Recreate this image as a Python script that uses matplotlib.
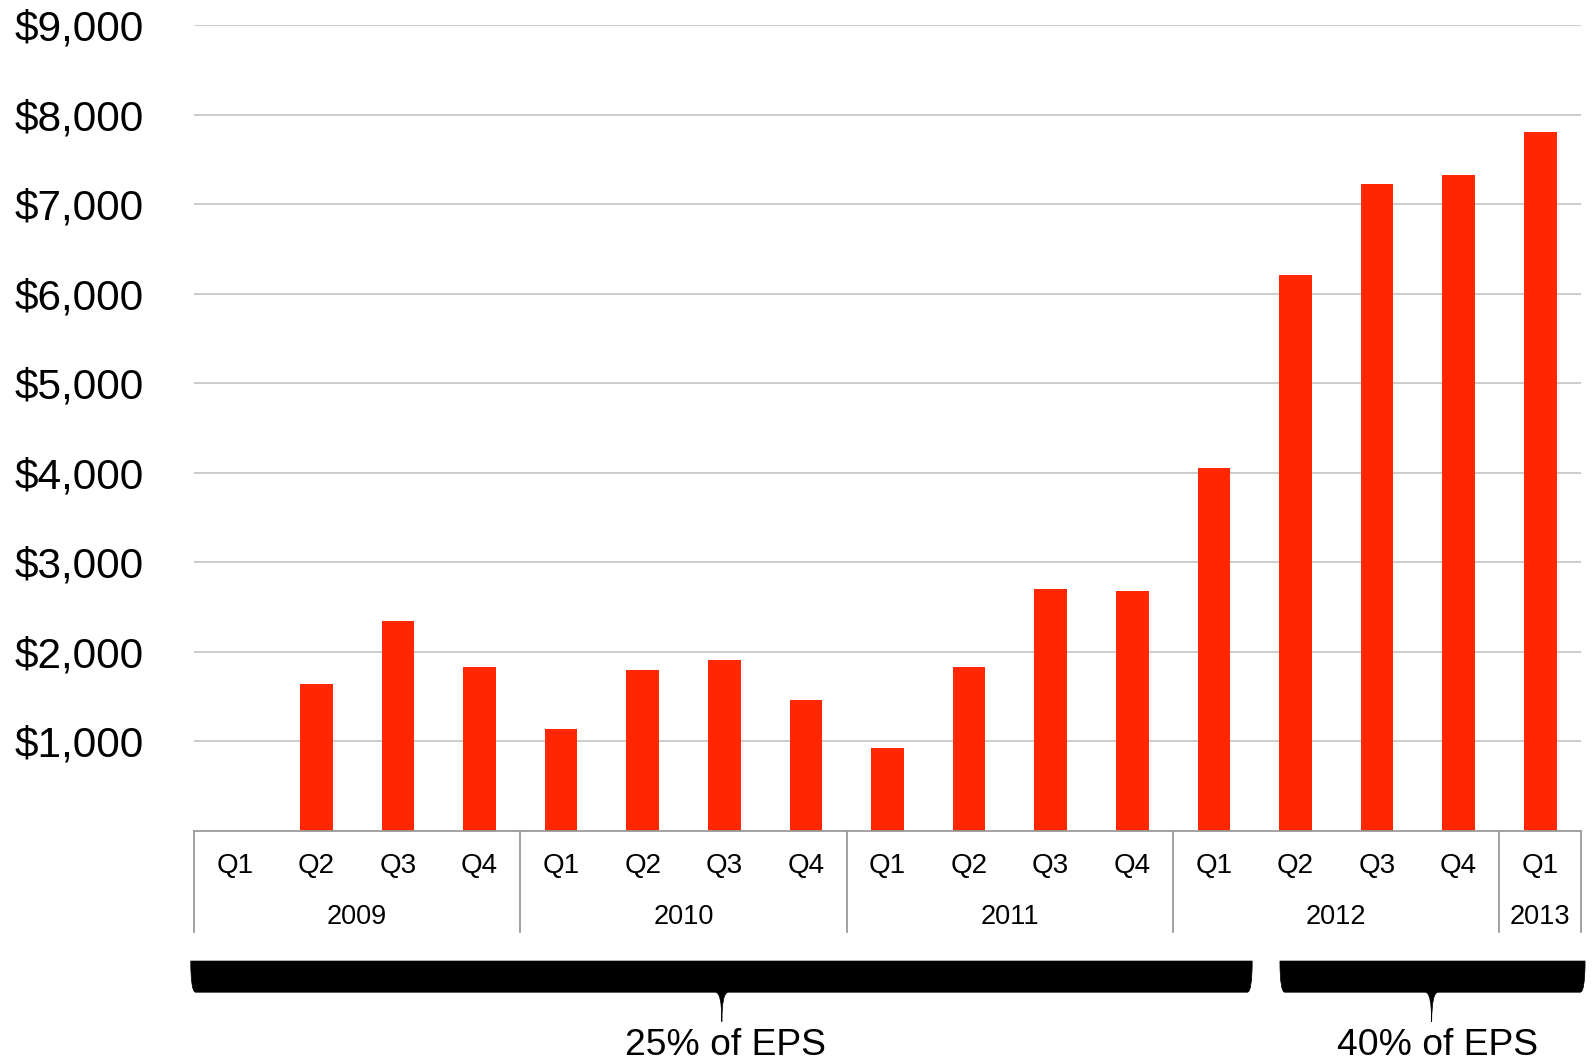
import matplotlib
matplotlib.use("Agg")
import matplotlib.pyplot as plt
from matplotlib.path import Path
from matplotlib.patches import PathPatch

plt.rcParams['font.family'] = ['Liberation Sans', 'DejaVu Sans']

# Quarterly values (USD)
quarters = ["Q1", "Q2", "Q3", "Q4",
            "Q1", "Q2", "Q3", "Q4",
            "Q1", "Q2", "Q3", "Q4",
            "Q1", "Q2", "Q3", "Q4",
            "Q1"]
values = [0, 1640, 2340, 1830,
          1135, 1795, 1905, 1465,
          930, 1830, 2700, 2680,
          4050, 6210, 7220, 7330,
          7810]
years = ["2009", "2010", "2011", "2012", "2013"]
quarters_per_year = [4, 4, 4, 4, 1]
yticks = [1000, 2000, 3000, 4000, 5000, 6000, 7000, 8000, 9000]
brace_labels = ["25% of EPS", "40% of EPS"]

BAR = "#ff2600"
GRID = "#c8c8c8"
AXIS = "#9a9a9a"

fig = plt.figure(figsize=(15.93, 10.61), dpi=100)
ax = fig.add_axes([194 / 1593, 1 - 831 / 1061, (1581 - 194) / 1593, (831 - 25) / 1061])

x = list(range(len(values)))
ax.bar(x, values, width=0.4, color=BAR, zorder=3)

ax.set_xlim(-0.5, len(values) - 0.5)
ax.set_ylim(0, 9000)
ax.set_yticks(yticks)
ax.set_yticklabels([f"${v:,}" for v in yticks], fontsize=30.5)
ax.tick_params(axis='y', length=0, pad=36)
ax.set_xticks([])
ax.grid(axis='y', color=GRID, linewidth=1.3, zorder=0)
for s in ax.spines.values():
    s.set_visible(False)

# Category axis: baseline, quarter labels, year groups and separators
sep_bottom = -1128
ax.plot([-0.5, len(values) - 0.5], [0, 0], color=AXIS, lw=1.3, clip_on=False, zorder=4)
for i, q in enumerate(quarters):
    ax.text(i, -390, q, ha='center', va='center', fontsize=20, clip_on=False)

start = 0
bounds = [-0.5]
for yr, n in zip(years, quarters_per_year):
    ax.text(start + (n - 1) / 2, -955, yr, ha='center', va='center', fontsize=19.5, clip_on=False)
    start += n
    bounds.append(start - 0.5)
for b in bounds:
    ax.plot([b, b], [0, sep_bottom], color=AXIS, lw=1.3, clip_on=False)


def brace(ax, x0, x1, xt, ytop, ybot, ytip, d=0.06, w=0.08):
    verts = [
        (x0, ytop), (x1, ytop),
        (x1, ybot), (x1 - d, ybot),
        (xt + w, ybot),
        (xt, ybot), (xt, ytip),
        (xt, ybot), (xt - w, ybot),
        (x0 + d, ybot),
        (x0, ybot), (x0, ytop),
        (x0, ytop),
    ]
    codes = [
        Path.MOVETO, Path.LINETO,
        Path.CURVE3, Path.CURVE3,
        Path.LINETO,
        Path.CURVE3, Path.CURVE3,
        Path.CURVE3, Path.CURVE3,
        Path.LINETO,
        Path.CURVE3, Path.CURVE3,
        Path.CLOSEPOLY,
    ]
    ax.add_patch(PathPatch(Path(verts, codes), facecolor='black', edgecolor='black',
                           lw=0.5, clip_on=False))


ytop, ybot, ytip = -1452, -1800, -2130
brace(ax, -0.54, 12.47, 5.97, ytop, ybot, ytip)
brace(ax, 12.81, 16.55, 14.67, ytop, ybot, ytip)
ax.text(6.01, -2500, brace_labels[0], ha='center', va='baseline', fontsize=26.8, clip_on=False)
ax.text(14.74, -2500, brace_labels[1], ha='center', va='baseline', fontsize=26.8, clip_on=False)

fig.savefig("out.png", dpi=100)
